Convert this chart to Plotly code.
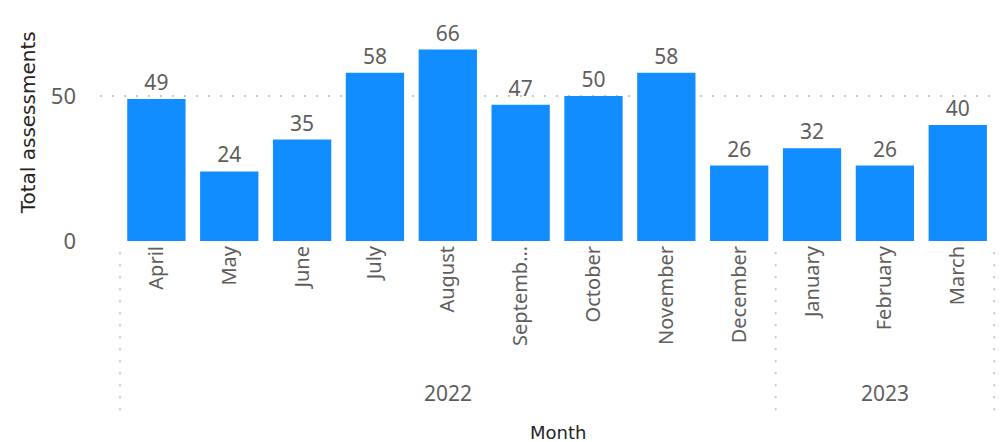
import plotly.graph_objects as go

months = ["April", "May", "June", "July", "August", "Septemb…", "October",
          "November", "December", "January", "February", "March"]
years = ["2022"] * 9 + ["2023"] * 3
values = [49, 24, 35, 58, 66, 47, 50, 58, 26, 32, 26, 40]
y_ticks = [0, 50]

idx = list(range(len(months)))
LABEL_FONT = "Noto Sans"
TITLE_FONT = "DejaVu Sans"
GREY = "#605E5C"

fig = go.Figure(go.Bar(
    x=idx, y=values, marker_color="#118DFF", marker_line_width=0,
    text=[str(v) for v in values], textposition="outside",
    textfont=dict(family=LABEL_FONT, size=21, color=GREY),
    cliponaxis=False, hoverinfo="skip"))

# year group labels and separators
year_order = []
for y in years:
    if y not in year_order:
        year_order.append(y)
shapes = []
annotations = []
bounds = [-0.5]
for yr in year_order:
    ids = [i for i, y in enumerate(years) if y == yr]
    annotations.append(dict(x=sum(ids) / len(ids), y=-0.749, xref="x", yref="paper",
                            text=yr, showarrow=False, yanchor="middle",
                            font=dict(family=LABEL_FONT, size=21, color=GREY)))
    bounds.append(max(ids) + 0.5)
for b in bounds:
    shapes.append(dict(type="line", xref="x", yref="paper", x0=b, x1=b, y0=-0.055, y1=-0.84,
                       line=dict(color="#C8C8C8", width=2, dash="2px,10px")))

annotations.append(dict(x=0.509, y=-0.941, xref="paper", yref="paper", text="Month",
                        showarrow=False, yanchor="middle",
                        font=dict(family=TITLE_FONT, size=18, color="#252423")))
annotations.append(dict(x=-0.079, y=0.584, xref="paper", yref="paper",
                        text="Total assessments", textangle=-90,
                        showarrow=False, xanchor="center", yanchor="middle",
                        font=dict(family=TITLE_FONT, size=20, color="#252423")))

fig.update_layout(
    width=1003, height=442,
    margin=dict(l=100, r=3, t=38, b=201, autoexpand=False),
    plot_bgcolor="white", paper_bgcolor="white",
    bargap=0.2, showlegend=False,
    shapes=shapes, annotations=annotations,
    xaxis=dict(tickmode="array", tickvals=idx, ticktext=months, tickangle=-90,
               range=[-0.774, 11.58], showgrid=False, zeroline=False,
               showline=False, ticks="", automargin=False,
               tickfont=dict(family=LABEL_FONT, size=20, color=GREY)),
    yaxis=dict(range=[0, 70], tickvals=y_ticks, showgrid=True, gridcolor="#C8C8C8",
               griddash="2px,10px", gridwidth=2, zeroline=False, showline=False,
               ticks="", ticklabelstandoff=23, automargin=False,
               tickfont=dict(family=LABEL_FONT, size=22, color=GREY)),
)

fig.write_html("out.html", config={"displayModeBar": False},
               post_script="document.body.style.margin='0';document.body.style.overflow='hidden';")
